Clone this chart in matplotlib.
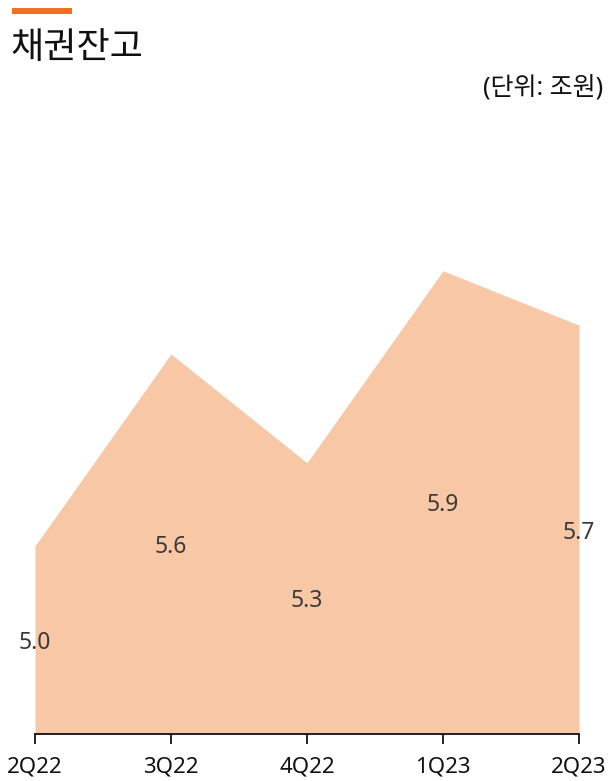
import matplotlib
matplotlib.use("Agg")
import matplotlib.pyplot as plt
from matplotlib.patches import Rectangle
from matplotlib.transforms import offset_copy

plt.rcParams['font.family'] = ['Noto Sans', 'Noto Sans CJK KR', 'DejaVu Sans']

quarters = ["2Q22", "3Q22", "4Q22", "1Q23", "2Q23"]
balances = [5.0, 5.6, 5.26, 5.86, 5.69]
title = "채권잔고"
unit_label = "(단위: 조원)"

W, H = 611, 781
fig = plt.figure(figsize=(W / 100, H / 100), dpi=100)

left, right = 35 / W, 579 / W
bottom = 1 - 734 / H
top = 1 - 100 / H
ax = fig.add_axes([left, bottom, right - left, top - bottom])

ymin = 4.4125
ymax = ymin + 634 / 320
x = list(range(len(quarters)))
ax.fill_between(x, ymin, balances, color="#F8C7A6", linewidth=0)
ax.set_xlim(0, len(quarters) - 1)
ax.set_ylim(ymin, ymax)

label_tr = offset_copy(ax.transData, fig=fig, x=0, y=-3, units="dots")
for xi, v in zip(x, balances):
    ax.text(xi, (ymin + v) / 2, f"{v:.1f}", ha="center", va="center",
            fontsize=16.5, color="#3a3a3a", transform=label_tr)

for s in ["top", "right", "left"]:
    ax.spines[s].set_visible(False)
ax.spines["bottom"].set_color("#111111")
ax.spines["bottom"].set_linewidth(1.3)
ax.set_yticks([])
ax.set_xticks(x)
ax.set_xticklabels(quarters, fontsize=16, color="#111111")
ax.tick_params(axis="x", length=7, width=1.3, color="#111111", pad=9.5)
ax.patch.set_alpha(0)

fig.patches.append(Rectangle((12 / W, 1 - 14 / H), 60 / W, 6 / H,
                             transform=fig.transFigure, color="#F07122",
                             linewidth=0))
fig.text(10 / W, 1 - 48 / H, title, fontsize=26, color="#111111",
         family=['Noto Sans CJK KR', 'DejaVu Sans'],
         ha="left", va="center")
fig.text(603 / W, 1 - 88 / H, unit_label, fontsize=18, color="#111111",
         ha="right", va="center")

fig.savefig("out.png", dpi=100)
